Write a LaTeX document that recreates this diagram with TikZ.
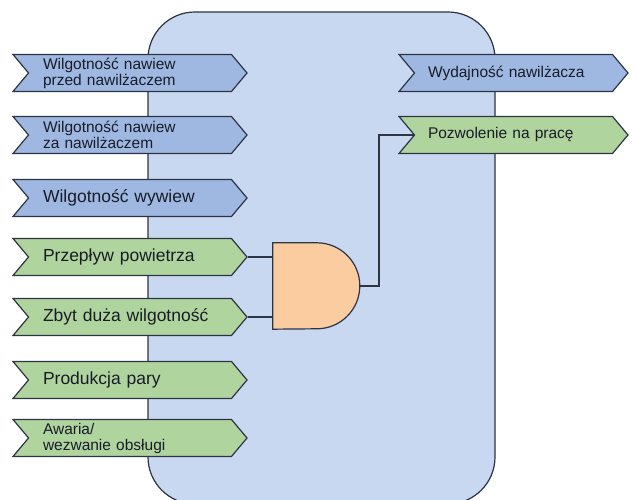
\documentclass[tikz,border=0pt]{standalone}
\usepackage{fontspec}
\setmainfont{Liberation Sans}
\usetikzlibrary{shapes.symbols}
\definecolor{panelblue}{RGB}{200,216,240}
\definecolor{sigblue}{RGB}{158,184,226}
\definecolor{siggreen}{RGB}{176,212,158}
\definecolor{gateorange}{RGB}{250,204,160}
\definecolor{edge}{RGB}{45,52,68}
\definecolor{txt}{RGB}{25,28,40}
\begin{document}
\begin{tikzpicture}[x=1pt,y=1pt,
  sig/.style={shape=signal, signal to=east, signal from=west, signal pointer angle=100,
    draw=edge, line width=1.2pt, inner xsep=0pt, inner ysep=0pt,
    minimum height=37pt, align=left, text=txt},
  lsig/.style={sig, minimum width=234pt, text width=174pt},
  rsig/.style={sig, minimum width=229pt, text width=171pt},
  one/.style={font=\fontsize{17.5}{19}\selectfont},
  two/.style={font=\fontsize{15.5}{16}\selectfont},
  wire/.style={draw=edge, line width=1.2pt}]
\useasboundingbox (0,0) rectangle (638,500);
\node[draw=edge, line width=1.2pt, fill=panelblue, rounded corners=47pt,
  minimum width=347pt, minimum height=492pt, inner sep=0pt] (panel) at (321.5,242) {};
% left inputs
\node[lsig, fill=sigblue, two]  (in1) at (130,427) {Wilgotność nawiew\\przed nawilżaczem};
\node[lsig, fill=sigblue, two]  (in2) at (130,365) {Wilgotność nawiew\\za nawilżaczem};
\node[lsig, fill=sigblue, one]  (in3) at (130,302) {Wilgotność wywiew};
\node[lsig, fill=siggreen, one] (in4) at (130,243) {Przepływ powietrza};
\node[lsig, fill=siggreen, one] (in5) at (130,183) {Zbyt duża wilgotność};
\node[lsig, fill=siggreen, one] (in6) at (130,120) {Produkcja pary};
\node[lsig, fill=siggreen, two] (in7) at (130,62)  {Awaria/\\wezwanie obsługi};
% right outputs
\node[rsig, fill=sigblue, two]  (out1) at (513.5,427) {Wydajność nawilżacza};
\node[rsig, fill=siggreen, two] (out2) at (513.5,365) {Pozwolenie na pracę};
% AND gate
\node[minimum width=87pt, minimum height=86pt, inner sep=0pt] (gate) at (316.5,214) {};
\draw[draw=edge, line width=1.2pt, fill=gateorange]
  (gate.south west) -- (gate.north west) -- ++(44,0)
  arc[start angle=90, end angle=-90, radius=43] -- cycle;
\coordinate (gout) at (360,214);
\coordinate (bend) at (379,214);
\draw[wire] (in4.east) -- (gate.west |- in4.east);
\draw[wire] (in5.east) -- (gate.west |- in5.east);
\draw[wire] (gout) -- (bend) |- (out2.west);
\end{tikzpicture}
\end{document}
